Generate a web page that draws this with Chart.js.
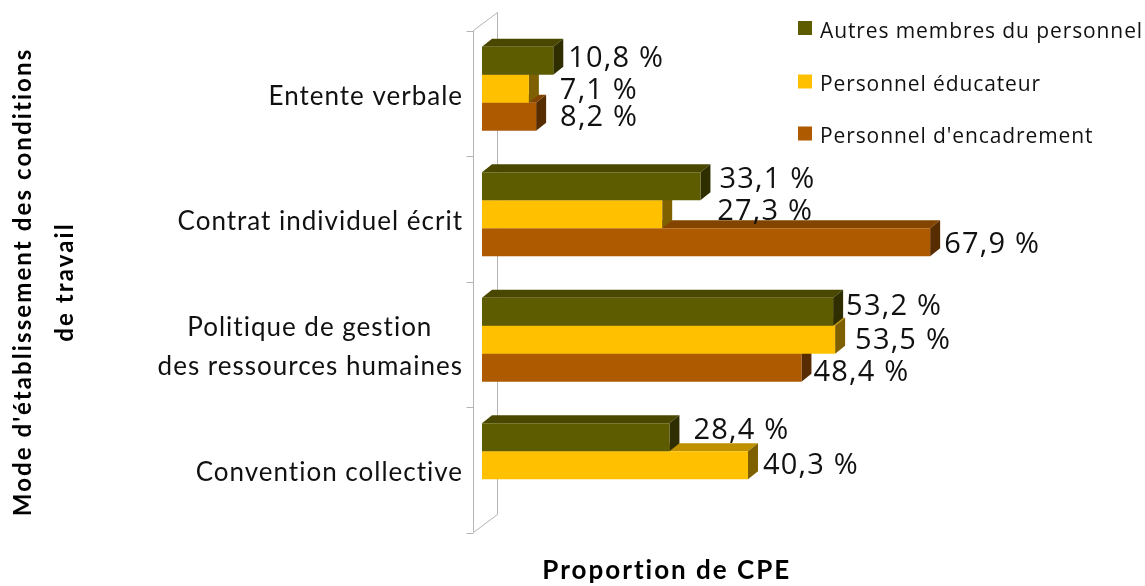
<!DOCTYPE html>
<html lang="fr">
<head>
    <meta charset="UTF-8">
    <title>Proportion de CPE</title>
    <script src="https://cdn.jsdelivr.net/npm/chart.js"></script>
    <style>
        html, body { margin: 0; padding: 0; background: #fff; }
        canvas { display: block; }
    </style>
</head>
<body>
    <canvas id="chart" width="1145" height="586"></canvas>
    <script>
        const categories = ['Entente verbale', 'Contrat individuel écrit', ['Politique de gestion    ', 'des ressources humaines'], 'Convention collective'];
        const seriesNames = ['Autres membres du personnel', 'Personnel éducateur', "Personnel d'encadrement"];
        const autresMembres = [10.8, 33.1, 53.2, 28.4];
        const educateur = [7.1, 27.3, 53.5, 40.3];
        const encadrement = [8.2, 67.9, 48.4, null];
        const yTitleLines = ["Mode d'établissement des conditions", 'de travail'];

        // couleurs : face, dessus, côté
        const frontColors = ['#5E5C00', '#FFC000', '#AE5A00'];
        const topColors = ['#4A4800', '#BF9000', '#834400'];
        const sideColors = ['#2F2E00', '#7F6000', '#572D00'];

        // décalage des étiquettes par rapport au bout de la barre
        const labelGapX = [[15, 19, 13, 24], [31, 55, 20, 15], [24, 14, 12, 0]];
        const labelGapY = [[-2, -7, -5, -7], [2, -3, 1, 0], [1, 2, 5, 0]];

        const depthX = 10, depthY = 8;
        const wallX = 24, wallY = 18;

        const faces3d = {
            id: 'faces3d',
            beforeDraw(chart) {
                // espacement des lettres pour les libellés de l'axe
                chart.ctx.letterSpacing = '1px';
            },
            beforeDatasetsDraw(chart) {
                const ctx = chart.ctx;
                const y = chart.scales.y;
                const band = y.getPixelForValue(1) - y.getPixelForValue(0);
                const front = chart.chartArea.left - 8.5;
                const shift = 4.5;

                // paroi arrière et graduations
                ctx.save();
                ctx.strokeStyle = '#b4b4b4';
                ctx.lineWidth = 1;
                const first = y.getPixelForValue(0) - band / 2 + shift;
                const last = y.getPixelForValue(categories.length - 1) + band / 2 + shift;
                ctx.beginPath();
                ctx.moveTo(front, first);
                ctx.lineTo(front, last);
                ctx.lineTo(front + wallX, last - wallY);
                ctx.lineTo(front + wallX, first - wallY);
                ctx.lineTo(front, first);
                for (let i = 0; i <= categories.length; i++) {
                    const py = Math.round(first + i * band) + 0.5;
                    ctx.moveTo(front - 7, py);
                    ctx.lineTo(front, py);
                }
                ctx.stroke();

                // du bas vers le haut pour que la barre du dessus cache le dessus de la suivante
                for (let d = chart.data.datasets.length - 1; d >= 0; d--) {
                    chart.getDatasetMeta(d).data.forEach((bar, i) => {
                        if (chart.data.datasets[d].data[i] == null) return;
                        const top = bar.y - bar.height / 2;
                        const bottom = bar.y + bar.height / 2;
                        ctx.fillStyle = topColors[d];
                        ctx.beginPath();
                        ctx.moveTo(bar.base, top);
                        ctx.lineTo(bar.base + depthX, top - depthY);
                        ctx.lineTo(bar.x + depthX, top - depthY);
                        ctx.lineTo(bar.x, top);
                        ctx.closePath();
                        ctx.fill();
                        ctx.fillStyle = sideColors[d];
                        ctx.beginPath();
                        ctx.moveTo(bar.x, top);
                        ctx.lineTo(bar.x + depthX, top - depthY);
                        ctx.lineTo(bar.x + depthX, bottom - depthY);
                        ctx.lineTo(bar.x, bottom);
                        ctx.closePath();
                        ctx.fill();
                    });
                }
                ctx.restore();
            },
            afterDraw(chart) {
                const ctx = chart.ctx;
                ctx.save();

                // étiquettes de valeurs
                ctx.fillStyle = '#111';
                ctx.font = '29px "Open Sans"';
                ctx.letterSpacing = '1.2px';
                ctx.textBaseline = 'middle';
                chart.data.datasets.forEach((ds, d) => {
                    chart.getDatasetMeta(d).data.forEach((bar, i) => {
                        if (ds.data[i] == null) return;
                        const txt = ds.data[i].toFixed(1).replace('.', ',') + ' %';
                        ctx.fillText(txt, bar.x + labelGapX[d][i], bar.y + labelGapY[d][i]);
                    });
                });

                // légende
                ctx.font = '21px "Open Sans"';
                ctx.letterSpacing = '0.9px';
                const legendY = [28, 81.5, 133.5];
                seriesNames.forEach((name, d) => {
                    ctx.fillStyle = frontColors[d];
                    ctx.fillRect(798, legendY[d] - 7, 14, 14);
                    ctx.fillStyle = '#111';
                    ctx.fillText(name, 820, legendY[d] + 4);
                });

                // titres des axes
                ctx.font = 'bold 26px Lato';
                ctx.letterSpacing = '2px';
                ctx.textAlign = 'center';
                ctx.fillStyle = '#000';
                ctx.fillText('Proportion de CPE', chart.scales.x.getPixelForValue(28), 571);

                ctx.font = 'bold 24px Lato';
                ctx.letterSpacing = '2.1px';
                yTitleLines.forEach((line, i) => {
                    ctx.save();
                    ctx.translate(23 + i * 42, 282);
                    ctx.rotate(-Math.PI / 2);
                    ctx.fillText(line, 0, 0);
                    ctx.restore();
                });
                ctx.restore();
            }
        };

        new Chart(document.getElementById('chart'), {
            type: 'bar',
            plugins: [faces3d],
            data: {
                labels: categories,
                datasets: [
                    { label: seriesNames[0], data: autresMembres, backgroundColor: frontColors[0] },
                    { label: seriesNames[1], data: educateur, backgroundColor: frontColors[1] },
                    { label: seriesNames[2], data: encadrement, backgroundColor: frontColors[2] }
                ]
            },
            options: {
                indexAxis: 'y',
                responsive: false,
                animation: false,
                layout: { padding: { top: 26, bottom: 58, right: 3, left: 0 } },
                datasets: { bar: { barPercentage: 1, categoryPercentage: 0.669 } },
                plugins: { legend: { display: false }, tooltip: { enabled: false } },
                scales: {
                    x: { display: false, min: 0, max: 100 },
                    y: {
                        afterFit(scale) {
                            scale.width = 482;
                            scale.paddingTop = 0;
                            scale.paddingBottom = 0;
                        },
                        grid: { display: false },
                        border: { display: false },
                        ticks: {
                            color: '#111',
                            font: { family: 'Lato', size: 26, lineHeight: 1.5 },
                            padding: 11,
                            labelOffset: 7.5
                        }
                    }
                }
            }
        });
    </script>
</body>
</html>
